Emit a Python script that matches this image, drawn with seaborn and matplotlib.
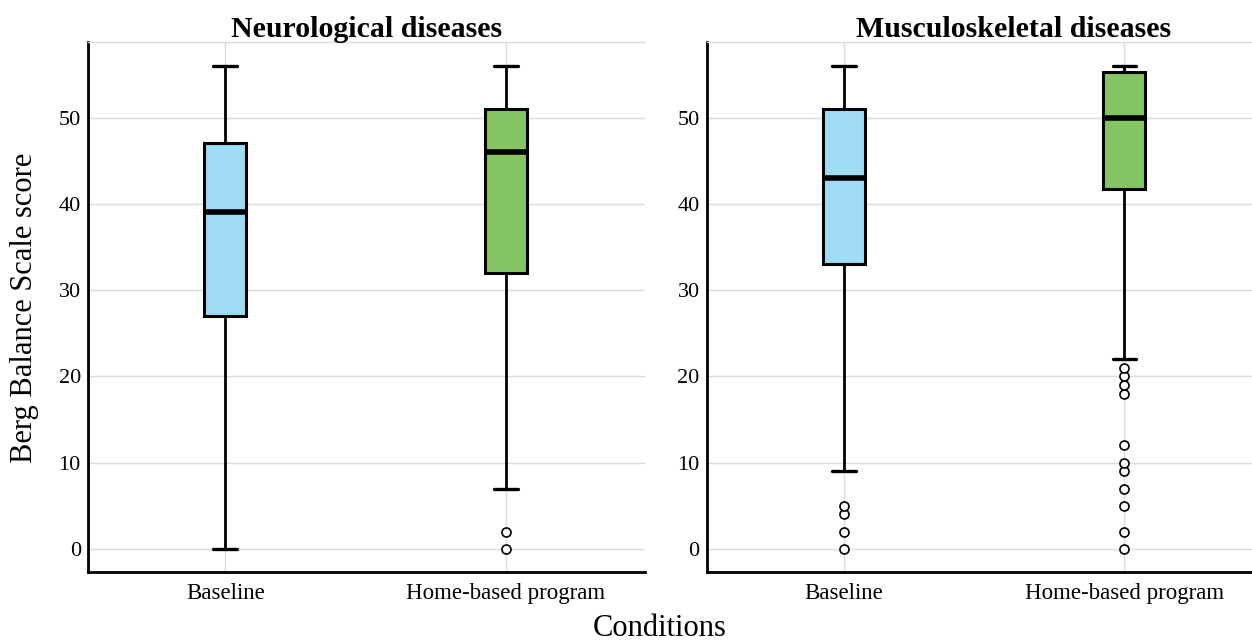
import numpy as np
import seaborn as sns
import matplotlib.pyplot as plt

# Box summary values (Berg Balance Scale score)
conditions = ['Baseline', 'Home-based program']
panels = ['Neurological diseases', 'Musculoskeletal diseases']

neuro_whislo = [0, 7]
neuro_q1 = [27, 32]
neuro_med = [39, 46]
neuro_q3 = [47, 51]
neuro_whishi = [56, 56]
neuro_fliers = [[], [0, 2]]

musc_whislo = [9, 22]
musc_q1 = [33, 41.7]
musc_med = [43, 50]
musc_q3 = [51, 55.3]
musc_whishi = [56, 56]
musc_fliers = [[0, 2, 4, 5], [0, 2, 5, 7, 9, 10, 12, 18, 19, 20, 21]]

box_colors = ['#9edcf6', '#84c463']
yticks = [0, 10, 20, 30, 40, 50]

sns.set_theme(style='whitegrid')
plt.rcParams['font.family'] = ['Liberation Serif', 'DejaVu Serif']
plt.rcParams['text.color'] = 'black'


def make_stats(lo, q1, med, q3, hi, fl):
    stats = []
    for i in range(len(conditions)):
        stats.append({'whislo': lo[i], 'q1': q1[i], 'med': med[i], 'q3': q3[i],
                      'whishi': hi[i], 'fliers': fl[i], 'label': conditions[i]})
    return stats


all_stats = [
    make_stats(neuro_whislo, neuro_q1, neuro_med, neuro_q3, neuro_whishi, neuro_fliers),
    make_stats(musc_whislo, musc_q1, musc_med, musc_q3, musc_whishi, musc_fliers),
]

fig = plt.figure(figsize=(12.52, 6.41), dpi=100)
ax1 = fig.add_axes([0.0701, 0.1072, 0.4449, 0.8278])
ax2 = fig.add_axes([0.5644, 0.1072, 0.4356, 0.8278])
axes = [ax1, ax2]
xlims = [(-0.49, 1.495), (-0.49, 1.455)]
title_x = [0.5, 0.562]

for ax, stats, title, xl, tx in zip(axes, all_stats, panels, xlims, title_x):
    bp = ax.bxp(stats, positions=[0, 1], widths=0.15, capwidths=0.084,
                patch_artist=True, showfliers=True,
                boxprops=dict(linewidth=2.2, edgecolor='black'),
                whiskerprops=dict(linewidth=2.0, color='black'),
                capprops=dict(linewidth=2.4, color='black'),
                medianprops=dict(linewidth=4.0, color='black', solid_capstyle='butt'),
                flierprops=dict(marker='o', markersize=6.5, markerfacecolor='white',
                                markeredgecolor='black', markeredgewidth=1.2))
    for patch, c in zip(bp['boxes'], box_colors):
        patch.set_facecolor(c)
        patch.set_zorder(3)
    for key in ['whiskers', 'caps', 'medians', 'fliers']:
        for art in bp[key]:
            art.set_zorder(4)

    ax.set_xlim(*xl)
    ax.set_ylim(-2.7, 58.8)
    ax.set_yticks(yticks)
    ax.set_xticks([0, 1])
    ax.set_xticklabels(conditions)
    ax.grid(True, color='#dcdcdc', linewidth=1.0)
    ax.set_axisbelow(True)
    ax.set_facecolor('white')
    ax.tick_params(axis='both', length=0, labelsize=16, colors='black')
    ax.tick_params(axis='x', pad=8, labelsize=16.5)
    ax.tick_params(axis='y', pad=5)
    for s in ['left', 'bottom']:
        ax.spines[s].set_color('black')
        ax.spines[s].set_linewidth(2.0)
    ax.spines['top'].set_color('#dcdcdc')
    ax.spines['top'].set_linewidth(1.0)
    ax.spines['right'].set_visible(False)
    ax.set_title(title, x=tx, fontsize=21.5, fontweight='bold', pad=3, color='black')

fig.text(25 / 1252, 0.52, 'Berg Balance Scale score', rotation=90,
         ha='center', va='center', fontsize=22, color='black')
fig.text(660 / 1252, 1 - 628 / 641, 'Conditions', ha='center', va='center',
         fontsize=22, color='black')

fig.savefig('out.png', dpi=100, facecolor='white')
